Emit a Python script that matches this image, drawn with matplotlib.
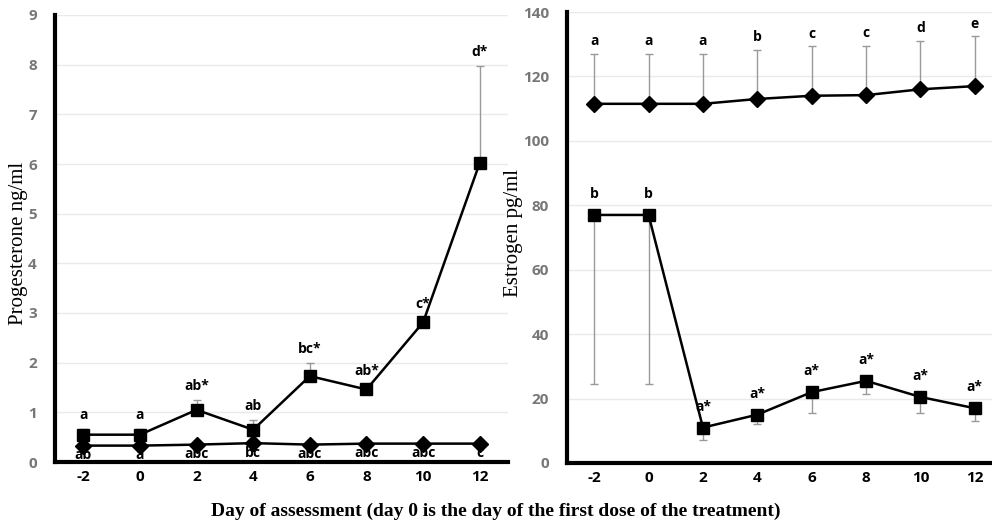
import matplotlib
matplotlib.use("Agg")
import matplotlib.pyplot as plt
from matplotlib.font_manager import FontProperties
import numpy as np

# data
days = ["-2", "0", "2", "4", "6", "8", "10", "12"]

prog_treat = [0.55, 0.55, 1.05, 0.65, 1.73, 1.46, 2.81, 6.02]
prog_treat_err = [0.12, 0.12, 0.2, 0.2, 0.27, 0.1, 0.1, 1.95]
prog_ctrl = [0.33, 0.33, 0.35, 0.38, 0.35, 0.37, 0.37, 0.37]
prog_treat_lbl = ["a", "a", "ab*", "ab", "bc*", "ab*", "c*", "d*"]
prog_ctrl_lbl = ["ab", "a", "abc", "bc", "abc", "abc", "abc", "c"]

estr_ctrl = [111.5, 111.5, 111.5, 113.0, 114.0, 114.2, 116.0, 117.0]
estr_ctrl_err = [15.5, 15.5, 15.5, 15.3, 15.3, 15.4, 15.0, 15.5]
estr_treat = [77.0, 77.0, 11.0, 15.0, 22.0, 25.5, 20.5, 17.0]
estr_treat_err = [52.5, 52.5, 4.0, 3.0, 6.5, 4.0, 5.0, 4.0]
estr_ctrl_lbl = ["a", "a", "a", "b", "c", "c", "d", "e"]
estr_treat_lbl = ["b", "b", "a*", "a*", "a*", "a*", "a*", "a*"]

x = np.arange(len(days))
W, H = 992, 527
fig = plt.figure(figsize=(W / 100, H / 100), dpi=100)

ax1 = fig.add_axes([55 / W, 1 - 462 / H, 453 / W, 447 / H])
ax2 = fig.add_axes([567 / W, 1 - 463 / H, 435 / W, 451 / H])

tickfont = {"family": "Open Sans", "weight": "bold", "size": 11}
lblfont = {"family": "Open Sans", "weight": "bold", "size": 10}
err_kw = dict(fmt="none", ecolor="#999999", elinewidth=1, capsize=3, capthick=1, zorder=2)
line_kw = dict(color="black", lw=1.8, zorder=3)

# left panel: progesterone
ax1.errorbar(x, prog_treat, yerr=[np.zeros(len(x)), prog_treat_err], **err_kw)
ax1.plot(x, prog_ctrl, marker="D", ms=8.5, **line_kw)
ax1.plot(x, prog_treat, marker="s", ms=9, **line_kw)
for i in x:
    ax1.annotate(prog_treat_lbl[i], (i, prog_treat[i] + prog_treat_err[i]), xytext=(0, 10),
                 textcoords="offset points", ha="center", va="center", **lblfont)
    ax1.annotate(prog_ctrl_lbl[i], (i, prog_ctrl[i]), xytext=(0, -7),
                 textcoords="offset points", ha="center", va="center", zorder=5, **lblfont)
ax1.set_ylim(0, 9)
ax1.set_yticks(range(0, 10))
ax1.set_ylabel("Progesterone ng/ml", family="Liberation Serif", size=15)
ax1.yaxis.set_label_coords(-0.06, 0.49)

# right panel: estrogen
ax2.errorbar(x, estr_ctrl, yerr=[np.zeros(len(x)), estr_ctrl_err], **err_kw)
ax2.errorbar(x, estr_treat, yerr=[estr_treat_err, np.zeros(len(x))], **err_kw)
ax2.plot(x, estr_ctrl, marker="D", ms=8.5, **line_kw)
ax2.plot(x, estr_treat, marker="s", ms=9, **line_kw)
for i in x:
    ax2.annotate(estr_ctrl_lbl[i], (i, estr_ctrl[i] + estr_ctrl_err[i]), xytext=(0, 9),
                 textcoords="offset points", ha="center", va="center", **lblfont)
    ax2.annotate(estr_treat_lbl[i], (i, estr_treat[i]), xytext=(0, 15),
                 textcoords="offset points", ha="center", va="center", **lblfont)
ax2.set_ylim(0, 140)
ax2.set_yticks(range(0, 141, 20))
ax2.set_ylabel("Estrogen pg/ml", family="Liberation Serif", size=15)
ax2.yaxis.set_label_coords(-0.101, 0.51)

for ax in (ax1, ax2):
    ax.set_xlim(-0.5, len(x) - 0.5)
    ax.set_xticks(x)
    ax.set_xticklabels(days, **tickfont)
    for t in ax.get_yticklabels():
        t.set_fontproperties(FontProperties(**tickfont))
        t.set_color("#777777")
    ax.tick_params(axis="x", length=0, pad=6)
    ax.tick_params(axis="y", length=0, pad=13)
    ax.grid(axis="y", color="#eaeaea", lw=1)
    ax.set_axisbelow(True)
    for s in ("top", "right"):
        ax.spines[s].set_visible(False)
    for s in ("left", "bottom"):
        ax.spines[s].set_linewidth(3)
    ax.patch.set_alpha(0)

fig.text(496 / W, 1 - 511 / H,
         "Day of assessment (day 0 is the day of the first dose of the treatment)",
         ha="center", va="center", family="Liberation Serif", weight="bold", size=14)

fig.savefig("out.png", dpi=100)
